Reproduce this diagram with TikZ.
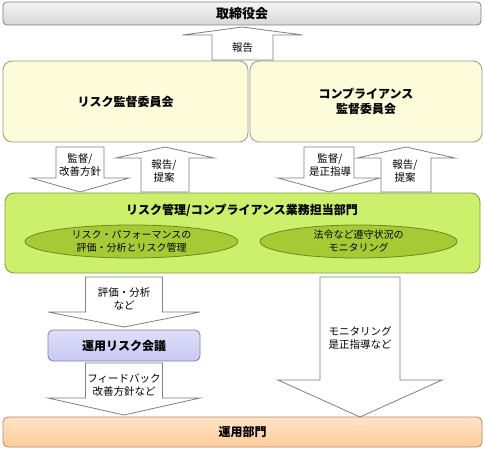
\documentclass[tikz,border=0pt]{standalone}
\usepackage{fontspec}
\setmainfont{Noto Sans CJK JP}
\usepackage{tikz}
\usetikzlibrary{shapes.geometric, positioning, calc}
\usepackage{xcolor}
\definecolor{boardline}{HTML}{808080}
\definecolor{creamfill}{HTML}{FCFCDA}
\definecolor{creamline}{HTML}{9A9A88}
\definecolor{limefill}{HTML}{CCF06C}
\definecolor{limeline}{HTML}{78A040}
\definecolor{olivefill}{HTML}{A6CA34}
\definecolor{oliveline}{HTML}{6A8A1E}
\definecolor{lavfill}{HTML}{C8C8F4}
\definecolor{lavline}{HTML}{80809E}
\definecolor{peachfill}{HTML}{FFCC99}
\definecolor{peachline}{HTML}{B8895E}
\definecolor{arrowline}{HTML}{7F7F7F}

\tikzset{
  panel/.style={line width=0.8pt, inner sep=0pt, align=center, font=\fontsize{12}{15}\selectfont\bfseries},
  oval/.style={ellipse, draw=oliveline, fill=olivefill, line width=0.8pt, inner sep=0pt, align=center, font=\fontsize{10}{13}\selectfont},
  blkarrow/.style={draw=arrowline, fill=white, line width=0.8pt, line join=miter},
  flowtext/.style={align=center, inner sep=0pt, font=\fontsize{10.5}{13}\selectfont}
}
% x, tail, head base, tip, shaft half width, head half width
\newcommand{\blockarrow}[6]{%
  \draw[blkarrow] (#1-#5,#2) -- (#1+#5,#2) -- (#1+#5,#3) -- (#1+#6,#3)
    -- (#1,#4) -- (#1-#6,#3) -- (#1-#5,#3) -- cycle;}

\begin{document}
\begin{tikzpicture}[x=1pt, y=-1pt]
  \useasboundingbox[fill=white] (0,0) rectangle (484,449);

  % boards and committees
  \node[panel, draw=boardline, top color=gray!8, bottom color=gray!32, rounded corners=4pt,
        minimum width=478pt, minimum height=23pt, font=\fontsize{13}{15}\selectfont\bfseries] (board) at (242,13.5) {取締役会};
  \node[panel, draw=creamline, fill=creamfill, rounded corners=9pt,
        minimum width=245pt, minimum height=81pt] (riskcom) at (125.5,101.5) {リスク監督委員会};
  \node[panel, draw=creamline, fill=creamfill, rounded corners=9pt,
        minimum width=232pt, minimum height=81pt] (compcom) at (366,101.5) {コンプライアンス\\監督委員会};

  % department in charge
  \node[panel, draw=limeline, fill=limefill, rounded corners=9pt,
        minimum width=475pt, minimum height=80pt] (dept) at (242.5,233) {};
  \node[panel] (depttitle) at (242,210) {リスク管理/コンプライアンス業務担当部門};
  \node[oval, minimum width=213pt, minimum height=33pt] (riskoval) at (131.5,241.5) {リスク・パフォーマンスの\\評価・分析とリスク管理};
  \node[oval, minimum width=197pt, minimum height=33pt] (compoval) at (358.5,241.5) {法令など遵守状況の\\モニタリング};

  % operations
  \node[panel, draw=lavline, top color=lavfill!60, bottom color=lavfill, rounded corners=5pt,
        minimum width=152pt, minimum height=31pt] (oprisk) at (124,345.5) {運用リスク会議};
  \node[panel, draw=peachline, top color=peachfill!55, bottom color=peachfill, rounded corners=5pt,
        minimum width=479pt, minimum height=30pt] (ops) at (242.5,432) {運用部門};

  % block arrows
  \blockarrow{242.5}{60}{35}{27}{30.5}{60}
  \blockarrow{80}{147}{178}{192}{24}{49}
  \blockarrow{165}{192}{158}{147}{24}{49}
  \blockarrow{329}{147}{178}{192}{25}{51}
  \blockarrow{406}{192}{158}{147}{25}{49}
  \blockarrow{124}{277}{312}{327}{38.5}{76}
  \blockarrow{124}{363}{398}{415}{38.5}{76}
  \blockarrow{360}{277}{380}{417}{40}{82}

  % arrow labels
  \node[flowtext] (toboard) at (242.5,48) {報告};
  \node[flowtext] (riskdown) at (80,165) {監督/\\改善方針};
  \node[flowtext] (riskup) at (164,171) {報告/\\提案};
  \node[flowtext] (compdown) at (330,165) {監督/\\是正指導};
  \node[flowtext] (compup) at (405,171) {報告/\\提案};
  \node[flowtext] (tomeeting) at (124,299) {評価・分析\\など};
  \node[flowtext] (feedback) at (124,385) {フィードバック\\改善方針など};
  \node[flowtext] (monitor) at (360,338) {モニタリング\\是正指導など};
\end{tikzpicture}
\end{document}
